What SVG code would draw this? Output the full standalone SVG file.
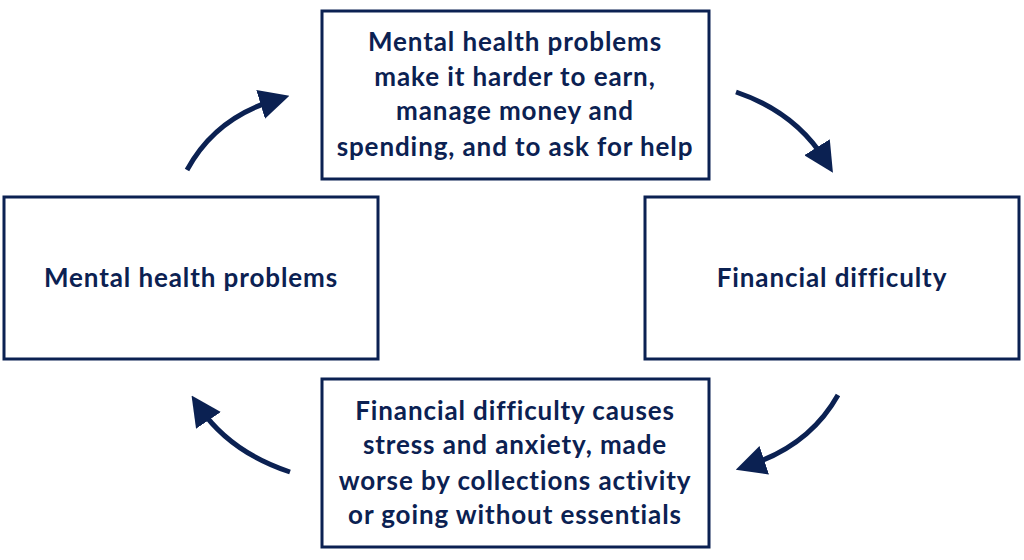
<svg xmlns="http://www.w3.org/2000/svg" width="1024" height="560" viewBox="0 0 1024 560">
<style>
.box{fill:#fff;stroke:#0b2152;stroke-width:3}
.t{font-family:Lato,"Liberation Sans",sans-serif;font-weight:bold;font-size:26px;letter-spacing:0.9px;fill:#0b2152;text-anchor:middle}
.c{fill:none;stroke:#0b2152;stroke-width:5}
</style>
<defs><marker id="ah" viewBox="0 0 10 10" refX="5" refY="5" markerWidth="6" markerHeight="6" orient="auto" markerUnits="strokeWidth"><path d="M0,0L10,5L0,10z" fill="#0b2152"/></marker></defs>
<rect width="1024" height="560" fill="#fff"/>
<g id="top"><rect class="box" x="322" y="11" width="387" height="168"/>
<text class="t" x="515" y="51">Mental health problems</text><text class="t" x="515" y="86">make it harder to earn,</text><text class="t" x="515" y="120">manage money and</text><text class="t" x="515" y="156">spending, and to ask for help</text></g>
<g id="left"><rect class="box" x="4" y="197" width="374" height="162"/><text class="t" x="191" y="287">Mental health problems</text></g>
<g id="right"><rect class="box" x="645" y="197" width="374" height="162"/><text class="t" x="832" y="287">Financial difficulty</text></g>
<g id="bottom"><rect class="box" x="322" y="379" width="387" height="168"/>
<text class="t" x="515" y="420">Financial difficulty causes</text><text class="t" x="515" y="454">stress and anxiety, made</text><text class="t" x="515" y="490">worse by collections activity</text><text class="t" x="515" y="524">or going without essentials</text></g>
<g id="connectors">
<path class="c" d="M187,170 Q215,118 275,100" marker-end="url(#ah)"/>
<path class="c" d="M736,92 Q795,112 825,160" marker-end="url(#ah)"/>
<path class="c" d="M838,395 Q810,445 750,465" marker-end="url(#ah)"/>
<path class="c" d="M290,472 Q230,452 200,408" marker-end="url(#ah)"/>
</g>
</svg>
